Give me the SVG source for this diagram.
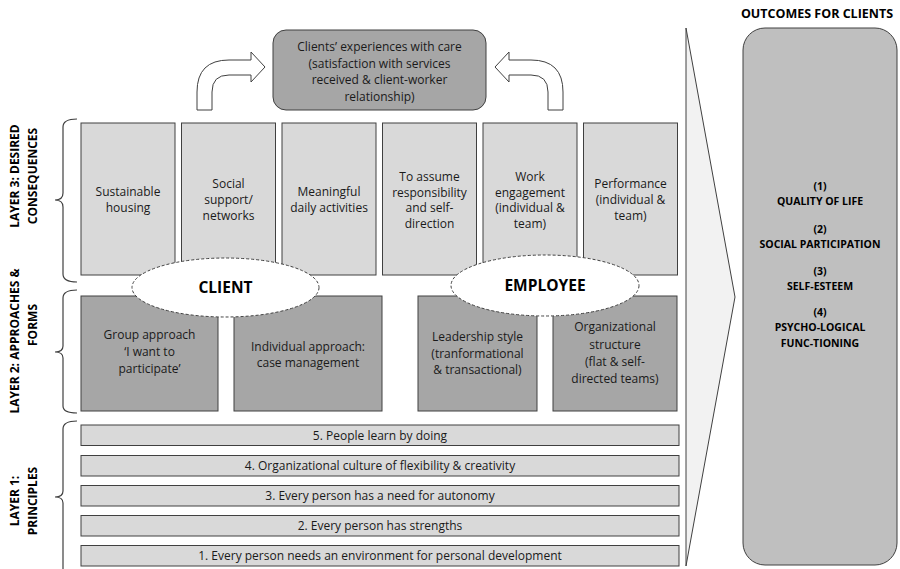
<svg xmlns="http://www.w3.org/2000/svg" width="900" height="569" viewBox="0 0 900 569">
<defs>
<style>
.t{font-family:"Open Sans","Liberation Sans",sans-serif;font-size:12px;fill:#1a1a1a;text-anchor:middle}
.b{font-family:"Open Sans","Liberation Sans",sans-serif;font-weight:bold;fill:#000;text-anchor:middle}
.l3{fill:#d9d9d9;stroke:#404040;stroke-width:1}
.l2{fill:#a6a6a6;stroke:#404040;stroke-width:1}
.l1{fill:#d9d9d9;stroke:#404040;stroke-width:1}
.ell{fill:#fff;stroke:#404040;stroke-width:1;stroke-dasharray:3 2}
.brace{fill:none;stroke:#404040;stroke-width:1.2}
.bent{fill:#fff;stroke:#404040;stroke-width:1}
</style>
</defs>
<rect width="900" height="569" fill="#fff"/>

<!-- big chevron -->
<g id="chevron">
<polygon points="686,28 735,297 686,566" fill="#f2f2f2" stroke="#404040" stroke-width="1"/>
</g>

<!-- left labels and braces -->
<g id="layer3-label">
<path class="brace" d="M77,119 C68,119 63,121 63,127 L63,193 C63,198 60,200 55,200 C60,200 63,202 63,207 L63,274 C63,280 68,282 77,282"/>
<text class="b" font-size="12" transform="translate(19,176) rotate(-90)">LAYER 3: DESIRED</text>
<text class="b" font-size="12" transform="translate(37,176) rotate(-90)">CONSEQUENCES</text>
</g>
<g id="layer2-label">
<path class="brace" d="M77,290 C68,290 63,292 63,298 L63,346 C63,350 60,352 55,352 C60,352 63,354 63,358 L63,406 C63,411 68,413 77,413"/>
<text class="b" font-size="12" transform="translate(19,341) rotate(-90)">LAYER 2: APPROACHES &amp;</text>
<text class="b" font-size="12" transform="translate(37,325) rotate(-90)">FORMS</text>
</g>
<g id="layer1-label">
<path class="brace" d="M77,421 C68,421 63,423 63,429 L63,491 C63,495 60,497 55,497 C60,497 63,499 63,503 L63,575"/>
<text class="b" font-size="12" transform="translate(19,501) rotate(-90)">LAYER 1:</text>
<text class="b" font-size="12" transform="translate(37,501) rotate(-90)">PRINCIPLES</text>
</g>

<!-- top node -->
<g id="experiences">
<rect x="273" y="30" width="213" height="80" rx="13" fill="#a6a6a6" stroke="#404040" stroke-width="1"/>
<text class="t" x="379.5" y="51">Clients’ experiences with care</text>
<text class="t" x="379.5" y="67.5">(satisfaction with services</text>
<text class="t" x="379.5" y="84">received &amp; client-worker</text>
<text class="t" x="379.5" y="100.5">relationship)</text>
</g>

<!-- Layer 3 -->
<g id="sustainable-housing">
<rect class="l3" x="81" y="123" width="94" height="152"/>
<text class="t" x="128" y="196">Sustainable</text>
<text class="t" x="128" y="212">housing</text>
</g>
<g id="social-support">
<rect class="l3" x="181.5" y="123" width="94" height="152"/>
<text class="t" x="228.5" y="188">Social</text>
<text class="t" x="228.5" y="204">support/</text>
<text class="t" x="228.5" y="220">networks</text>
</g>
<g id="meaningful-activities">
<rect class="l3" x="282" y="123" width="94" height="152"/>
<text class="t" x="329" y="196">Meaningful</text>
<text class="t" x="329" y="212">daily activities</text>
</g>
<g id="responsibility">
<rect class="l3" x="382.5" y="123" width="94" height="152"/>
<text class="t" x="429.5" y="181">To assume</text>
<text class="t" x="429.5" y="196.5">responsibility</text>
<text class="t" x="429.5" y="212">and self-</text>
<text class="t" x="429.5" y="227.5">direction</text>
</g>
<g id="work-engagement">
<rect class="l3" x="483" y="123" width="94" height="152"/>
<text class="t" x="530" y="181">Work</text>
<text class="t" x="530" y="196.5">engagement</text>
<text class="t" x="530" y="212">(individual &amp;</text>
<text class="t" x="530" y="227.5">team)</text>
</g>
<g id="performance">
<rect class="l3" x="583.5" y="123" width="94" height="152"/>
<text class="t" x="630.5" y="188">Performance</text>
<text class="t" x="630.5" y="204">(individual &amp;</text>
<text class="t" x="630.5" y="220">team)</text>
</g>

<!-- Layer 2 -->
<g id="group-approach">
<rect class="l2" x="81" y="296" width="137" height="115"/>
<text class="t" x="149.5" y="339">Group approach</text>
<text class="t" x="149.5" y="356">‘I want to</text>
<text class="t" x="149.5" y="373">participate’</text>
</g>
<g id="individual-approach">
<rect class="l2" x="234" y="296" width="148" height="115"/>
<text class="t" x="308" y="351">Individual approach:</text>
<text class="t" x="308" y="367">case management</text>
</g>
<g id="leadership-style">
<rect class="l2" x="418" y="296" width="119" height="115"/>
<text class="t" x="477.5" y="341">Leadership style</text>
<text class="t" x="477.5" y="358">(tranformational</text>
<text class="t" x="477.5" y="374">&amp; transactional)</text>
</g>
<g id="organizational-structure">
<rect class="l2" x="553" y="296" width="124" height="115"/>
<text class="t" x="615" y="331">Organizational</text>
<text class="t" x="615" y="348.5">structure</text>
<text class="t" x="615" y="366">(flat &amp; self-</text>
<text class="t" x="615" y="382.5">directed teams)</text>
</g>

<!-- ellipses -->
<g id="client">
<ellipse class="ell" cx="225.5" cy="287.5" rx="93.5" ry="29.5"/>
<text class="b" font-size="15.5" x="225.5" y="293">CLIENT</text>
</g>
<g id="employee">
<ellipse class="ell" cx="545" cy="285.5" rx="94" ry="30.5"/>
<text class="b" font-size="15.5" x="545" y="291">EMPLOYEE</text>
</g>

<!-- Layer 1 -->
<g id="principle-5">
<rect class="l1" x="81" y="425" width="598" height="20.5"/>
<text class="t" x="380" y="439.5">5. People learn by doing</text>
</g>
<g id="principle-4">
<rect class="l1" x="81" y="455.5" width="598" height="20.5"/>
<text class="t" x="380" y="470">4. Organizational culture of flexibility &amp; creativity</text>
</g>
<g id="principle-3">
<rect class="l1" x="81" y="485.5" width="598" height="20.5"/>
<text class="t" x="380" y="500">3. Every person has a need for autonomy</text>
</g>
<g id="principle-2">
<rect class="l1" x="81" y="515.5" width="598" height="20.5"/>
<text class="t" x="380" y="530">2. Every person has strengths</text>
</g>
<g id="principle-1">
<rect class="l1" x="81" y="545.5" width="598" height="20.5"/>
<text class="t" x="380" y="560">1. Every person needs an environment for personal development</text>
</g>

<!-- outcomes -->
<g id="outcomes">
<text class="b" font-size="12.5" x="817" y="18">OUTCOMES FOR CLIENTS</text>
<rect x="743" y="28" width="154" height="537" rx="22" fill="#bfbfbf" stroke="#404040" stroke-width="1"/>
<text class="b" font-size="10.5" x="820" y="190">(1)</text>
<text class="b" font-size="10.5" x="820" y="205">QUALITY OF LIFE</text>
<text class="b" font-size="10.5" x="820" y="233">(2)</text>
<text class="b" font-size="10.5" x="820" y="248">SOCIAL PARTICIPATION</text>
<text class="b" font-size="10.5" x="820" y="275">(3)</text>
<text class="b" font-size="10.5" x="820" y="290">SELF-ESTEEM</text>
<text class="b" font-size="10.5" x="820" y="316">(4)</text>
<text class="b" font-size="10.5" x="820" y="331">PSYCHO-LOGICAL</text>
<text class="b" font-size="10.5" x="820" y="347">FUNC-TIONING</text>
</g>

<!-- connectors -->
<g id="connectors">
<path class="bent" d="M197,110 L197,92 Q197,60 229,60 L251,60 L251,52 L265,67 L251,82 L251,75 L229,75 Q212,75 212,92 L212,110 Z"/>
<path class="bent" d="M563,110 L563,92 Q563,60 531,60 L509,60 L509,52 L495,67 L509,82 L509,75 L531,75 Q548,75 548,92 L548,110 Z"/>
</g>
</svg>
